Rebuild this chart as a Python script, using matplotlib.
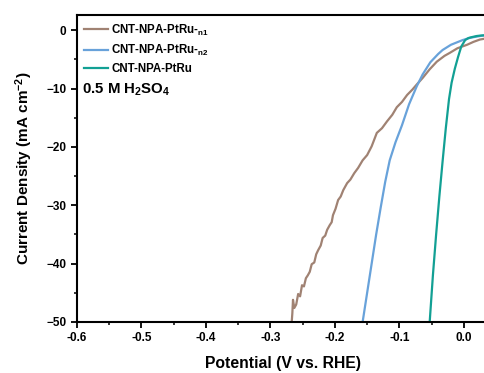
import matplotlib
matplotlib.use('Agg')
import matplotlib.pyplot as plt
from matplotlib.ticker import MultipleLocator

plt.rcParams['font.family'] = ['Liberation Sans', 'DejaVu Sans']
plt.rcParams['font.weight'] = 'bold'
plt.rcParams['mathtext.fontset'] = 'custom'
plt.rcParams['mathtext.rm'] = 'Liberation Sans:bold'
plt.rcParams['mathtext.bf'] = 'Liberation Sans:bold'
plt.rcParams['mathtext.it'] = 'Liberation Sans:bold'

# potential (V vs. RHE) and current density (mA cm-2)
v_n1 = [-0.267, -0.266, -0.265, -0.263, -0.260, -0.257, -0.254, -0.251, -0.248,
        -0.245, -0.242, -0.239, -0.236, -0.232, -0.229, -0.226, -0.222, -0.219,
        -0.215, -0.212, -0.208, -0.205, -0.203, -0.199, -0.195, -0.191, -0.187,
        -0.181, -0.176, -0.170, -0.164, -0.157, -0.150, -0.143, -0.135, -0.127,
        -0.119, -0.111, -0.104, -0.096, -0.088, -0.080, -0.073, -0.064, -0.053,
        -0.042, -0.030, -0.022, -0.010, 0.005, 0.015, 0.025, 0.036]
j_n1 = [-50.0, -48.5, -46.2, -47.6, -47.0, -45.2, -45.6, -43.7, -43.9,
        -42.5, -42.0, -41.4, -40.1, -39.8, -38.4, -37.7, -36.9, -35.6,
        -35.2, -34.2, -33.4, -32.9, -31.7, -30.6, -29.1, -28.5, -27.4,
        -26.2, -25.6, -24.5, -23.6, -22.3, -21.4, -19.9, -17.6, -16.8,
        -15.6, -14.5, -13.2, -12.3, -11.1, -10.2, -9.3, -8.2, -6.7,
        -5.4, -4.4, -3.9, -3.1, -2.5, -2.0, -1.6, -1.4]

v_n2 = [-0.157, -0.150, -0.143, -0.136, -0.129, -0.122, -0.115, -0.106, -0.096,
        -0.085, -0.073, -0.064, -0.052, -0.040, -0.033, -0.020, -0.002, 0.010,
        0.025, 0.036]
j_n2 = [-50.0, -45.0, -40.0, -35.0, -30.4, -26.0, -22.3, -19.2, -16.3,
        -12.7, -9.6, -7.6, -5.5, -4.1, -3.4, -2.5, -1.7, -1.3,
        -1.0, -0.85]

v_ptru = [-0.053, -0.048, -0.043, -0.038, -0.033, -0.028, -0.023, -0.019, -0.014,
          -0.009, -0.004, 0.002, 0.007, 0.012, 0.020, 0.028, 0.036]
j_ptru = [-50.0, -42.0, -35.0, -28.5, -22.5, -16.8, -11.8, -9.0, -6.6,
          -4.6, -2.8, -1.7, -1.35, -1.2, -1.0, -0.9, -0.85]

labels = [r'CNT-NPA-PtRu-$\mathregular{_{n1}}$',
          r'CNT-NPA-PtRu-$\mathregular{_{n2}}$',
          'CNT-NPA-PtRu']
colors = ['#A08273', '#68A2DA', '#12A094']

fig = plt.figure(figsize=(4.85, 3.73), dpi=100)
ax = fig.add_axes([77 / 485, 51 / 373, 412 / 485, 307 / 373])

ax.plot(v_n1, j_n1, color=colors[0], lw=1.6, label=labels[0])
ax.plot(v_n2, j_n2, color=colors[1], lw=1.6, label=labels[1])
ax.plot(v_ptru, j_ptru, color=colors[2], lw=1.6, label=labels[2])

ax.set_xlim(-0.6, 0.039)
ax.set_ylim(-50, 2.6)
ax.xaxis.set_major_locator(MultipleLocator(0.1))
ax.xaxis.set_minor_locator(MultipleLocator(0.05))
ax.yaxis.set_major_locator(MultipleLocator(10))
ax.yaxis.set_minor_locator(MultipleLocator(5))
ax.xaxis.set_major_formatter(plt.FuncFormatter(lambda x, p: '%.1f' % x))
ax.tick_params(which='major', direction='out', length=4.5, width=1.3, labelsize=8.5, pad=3)
ax.tick_params(which='minor', direction='out', length=2.5, width=1.1)
for s in ax.spines.values():
    s.set_linewidth(1.5)

ax.set_xlabel('Potential (V vs. RHE)', fontsize=11.3, fontweight='bold', labelpad=8)
ax.set_ylabel(r'Current Density (mA cm$^{\mathregular{-2}}$)', fontsize=11,
              fontweight='bold', labelpad=8)

leg = ax.legend(loc='upper left', frameon=False, fontsize=8.3, handlelength=2.0,
                handletextpad=0.3, labelspacing=0.45, borderaxespad=0.25,
                bbox_to_anchor=(0.0, 1.0))
ax.text(0.012, 0.755, r'0.5 M H$_2$SO$_4$', transform=ax.transAxes,
        fontsize=10.8, fontweight='bold', va='center')

fig.savefig('out.png', dpi=100)
